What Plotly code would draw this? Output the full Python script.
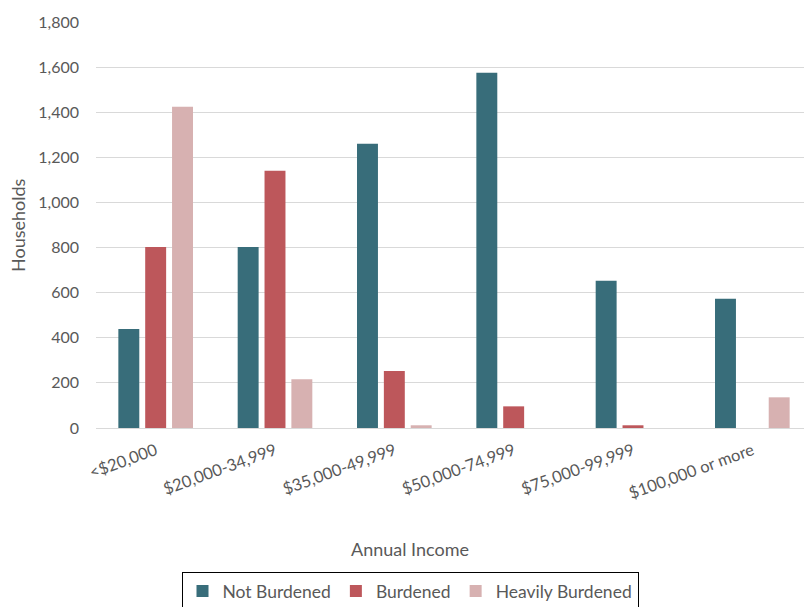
import plotly.graph_objects as go

categories = ["<$20,000", "$20,000-34,999", "$35,000-49,999", "$50,000-74,999", "$75,000-99,999", "$100,000 or more"]
not_burdened = [439, 803, 1260, 1575, 653, 573]
burdened = [803, 1140, 253, 96, 12, 0]
heavily_burdened = [1424, 216, 12, 0, 0, 136]
y_ticks = [0, 200, 400, 600, 800, 1000, 1200, 1400, 1600, 1800]

colors = {"Not Burdened": "#386D7A", "Burdened": "#BD575B", "Heavily Burdened": "#D7B1B1"}

fig = go.Figure()
for name, vals in [("Not Burdened", not_burdened), ("Burdened", burdened), ("Heavily Burdened", heavily_burdened)]:
    fig.add_trace(go.Bar(x=categories, y=vals, name=name,
                         marker=dict(color=colors[name], line=dict(width=0))))

font_family = "Lato, Open Sans, sans-serif"
fig.update_layout(
    width=804, height=599,
    margin=dict(l=88, r=0, t=14, b=179, autoexpand=False),
    paper_bgcolor="white", plot_bgcolor="white",
    barmode="group", bargap=0.325, bargroupgap=0.22,
    font=dict(family=font_family, color="#595959", size=16),
    showlegend=True,
    legend=dict(orientation="h", xref="container", yref="container",
                x=(410-8)/804, xanchor="center", y=1-(572-8)/599, yanchor="top",
                bordercolor="#000000", borderwidth=1, font=dict(size=17.5, color="#595959"),
                itemwidth=30, tracegroupgap=0),
    xaxis=dict(tickangle=-20, tickfont=dict(size=16.5, color="#595959"), showgrid=False,
               showline=True, linecolor="#D9D9D9", linewidth=1, ticks="", ticklabelstandoff=6),
    yaxis=dict(range=[0, 1800], tickvals=y_ticks, tickformat=",", showgrid=True,
               gridcolor="#D9D9D9", gridwidth=1, zeroline=False, ticks="",
               tickfont=dict(size=16, color="#595959"), ticklabelstandoff=16),
    annotations=[
        dict(text="Annual Income", xref="paper", yref="paper", x=0.4385, y=(428-549)/406,
             xanchor="center", yanchor="middle", showarrow=False, font=dict(size=18, color="#595959")),
        dict(text="Households", xref="paper", yref="paper", x=-(96-18)/716, y=(428-225)/406,
             xanchor="center", yanchor="middle", showarrow=False, textangle=-90,
             font=dict(size=18, color="#595959")),
    ],
)
fig.write_html("out.html")
